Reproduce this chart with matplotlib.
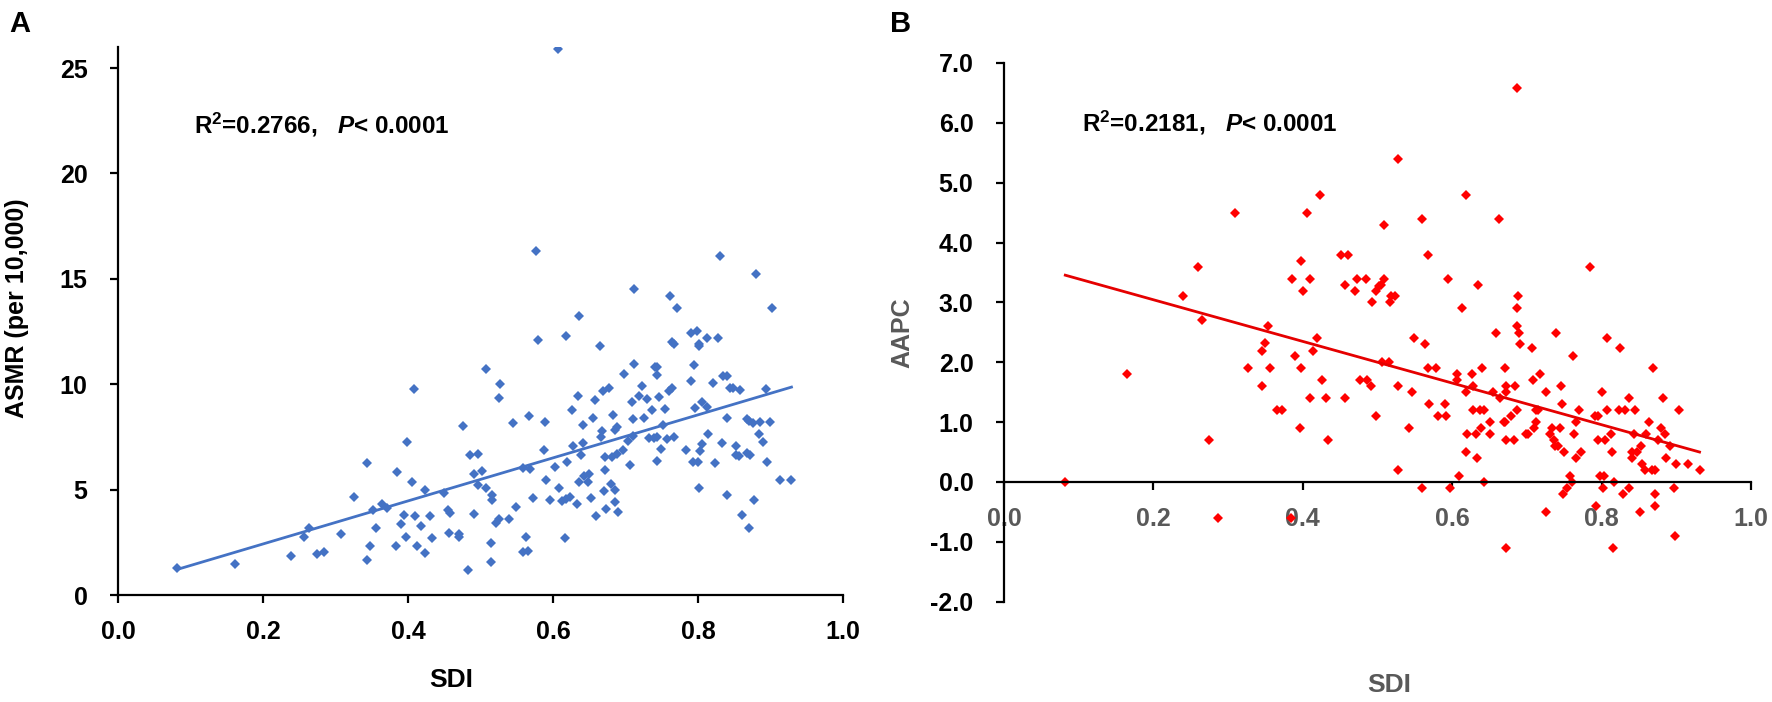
import numpy as np
import matplotlib
matplotlib.use('Agg')
import matplotlib.pyplot as plt
from matplotlib import font_manager

# ---- data ----
# panel A: SDI vs ASMR (per 10,000)
sdi_a = [0.607, 0.577, 0.830, 0.880, 0.712, 0.761, 0.771, 0.902, 0.636, 0.580,
         0.618, 0.665, 0.764, 0.767, 0.791, 0.799, 0.813, 0.802, 0.828,
         0.082, 0.162, 0.238, 0.257, 0.264, 0.274, 0.284, 0.307, 0.326, 0.343,
         0.343, 0.347, 0.352, 0.356, 0.364, 0.371, 0.383, 0.385, 0.390, 0.395,
         0.397, 0.399, 0.405, 0.408, 0.409, 0.413, 0.418, 0.423, 0.424, 0.430,
         0.433, 0.449, 0.455, 0.458, 0.456, 0.470, 0.470, 0.476, 0.483, 0.485,
         0.491, 0.491, 0.496, 0.496, 0.502, 0.507, 0.508, 0.515, 0.515, 0.516,
         0.516, 0.521, 0.526, 0.525, 0.527, 0.539, 0.545, 0.549, 0.558, 0.558,
         0.563, 0.565, 0.567, 0.568, 0.573, 0.588, 0.589, 0.591, 0.596, 0.603,
         0.608, 0.613, 0.617, 0.618, 0.619, 0.624, 0.626, 0.628, 0.633, 0.635,
         0.636, 0.639, 0.641, 0.642, 0.643, 0.650, 0.648, 0.653, 0.655, 0.658,
         0.660, 0.666, 0.668, 0.669, 0.670, 0.672, 0.673, 0.672, 0.677, 0.680,
         0.683, 0.682, 0.685, 0.686, 0.686, 0.688, 0.689, 0.690, 0.698, 0.697,
         0.703, 0.706, 0.709, 0.710, 0.711, 0.712, 0.719, 0.723, 0.726, 0.730,
         0.733, 0.736, 0.739, 0.741, 0.743, 0.744, 0.744, 0.744, 0.746, 0.749,
         0.752, 0.755, 0.757, 0.760, 0.764, 0.767, 0.783, 0.791, 0.794, 0.793,
         0.796, 0.800, 0.801, 0.802, 0.805, 0.806, 0.803, 0.813, 0.814, 0.821,
         0.823, 0.833, 0.835, 0.840, 0.840, 0.840, 0.844, 0.849, 0.852, 0.852,
         0.856, 0.858, 0.861, 0.867, 0.868, 0.870, 0.871, 0.872, 0.876, 0.878,
         0.884, 0.885, 0.890, 0.894, 0.895, 0.899, 0.913, 0.929]
asmr = [25.9, 16.3, 16.1, 15.25, 14.5, 14.2, 13.6, 13.6, 13.25, 12.1,
        12.3, 11.8, 12.0, 11.9, 12.45, 12.55, 12.2, 11.9, 12.2,
        1.30, 1.45, 1.85, 2.75, 3.2, 1.93, 2.05, 2.9, 4.63, 6.26,
        1.67, 2.34, 4.04, 3.18, 4.3, 4.14, 2.34, 5.83, 3.36, 3.82,
        2.73, 7.27, 5.37, 9.78, 3.76, 2.32, 3.29, 2.0, 4.99, 3.76,
        2.69, 4.85, 4.03, 3.87, 2.95, 2.89, 2.76, 8.03, 1.17, 6.62,
        5.72, 3.85, 6.70, 5.21, 5.89, 10.7, 5.06, 2.45, 1.55, 4.74,
        4.52, 3.44, 3.63, 9.34, 10.03, 3.59, 8.15, 4.19, 2.02, 6.03,
        2.76, 2.07, 8.51, 5.99, 4.6, 6.89, 8.2, 5.45, 4.49, 6.08,
        5.09, 4.47, 2.72, 4.57, 6.32, 4.66, 8.77, 7.09, 4.31, 9.42,
        5.37, 6.62, 7.19, 8.07, 5.64, 5.73, 5.37, 4.6, 8.42, 9.26,
        3.74, 7.52, 7.79, 9.67, 4.94, 5.92, 4.08, 6.56, 9.83, 5.29,
        8.53, 6.56, 7.82, 4.39, 4.98, 7.98, 6.68, 3.93, 10.47, 6.87,
        7.3, 6.19, 9.16, 8.33, 7.54, 10.95, 9.46, 9.94, 8.39, 9.3,
        7.47, 8.77, 7.46, 10.82, 10.84, 10.44, 6.35, 7.5, 9.38, 6.94,
        8.09, 8.82, 7.42, 9.7, 9.8, 7.5, 6.87, 10.14, 10.92, 6.32,
        8.86, 6.3, 5.07, 11.8, 7.17, 9.18, 6.81, 8.91, 7.65, 10.05,
        6.26, 7.19, 10.38, 10.38, 8.4, 4.76, 9.84, 9.81, 7.08, 6.62,
        6.6, 9.72, 3.79, 8.33, 6.75, 3.16, 8.26, 6.64, 8.14, 4.5,
        7.66, 8.23, 7.25, 9.78, 6.32, 8.2, 5.47, 5.47]

# panel B: SDI vs AAPC
sdi_b = [0.687, 0.527, 0.423, 0.619, 0.309, 0.406, 0.559, 0.662, 0.509, 0.451,
         0.460, 0.567, 0.398, 0.259, 0.785, 0.386, 0.409, 0.472, 0.484, 0.509,
         0.594, 0.457, 0.505, 0.635, 0.400, 0.470, 0.498, 0.502, 0.240, 0.518,
         0.523, 0.688, 0.492, 0.517, 0.613, 0.687, 0.265, 0.353, 0.658, 0.686,
         0.690, 0.739, 0.549, 0.419, 0.807, 0.349, 0.563, 0.691, 0.824, 0.707,
         0.345, 0.414, 0.390, 0.761, 0.164, 0.327, 0.356, 0.397, 0.567, 0.578,
         0.640, 0.671, 0.869, 0.506, 0.515, 0.425, 0.477, 0.486, 0.607, 0.708,
         0.607, 0.626, 0.718, 0.345, 0.491, 0.527, 0.628, 0.672, 0.684, 0.745,
         0.546, 0.619, 0.654, 0.672, 0.725, 0.801, 0.409, 0.431, 0.457, 0.664,
         0.837, 0.882, 0.569, 0.590, 0.747, 0.365, 0.372, 0.628, 0.637, 0.642,
         0.686, 0.712, 0.715, 0.769, 0.807, 0.823, 0.831, 0.845, 0.903, 0.498,
         0.581, 0.591, 0.679, 0.791, 0.795, 0.650, 0.669, 0.671, 0.712, 0.766,
         0.863, 0.396, 0.542, 0.639, 0.709, 0.733, 0.744, 0.880, 0.620, 0.632,
         0.650, 0.699, 0.702, 0.731, 0.763, 0.813, 0.843, 0.860, 0.885, 0.275,
         0.434, 0.672, 0.683, 0.736, 0.795, 0.804, 0.875, 0.737, 0.742, 0.852,
         0.891, 0.619, 0.750, 0.772, 0.814, 0.841, 0.847, 0.633, 0.766, 0.841,
         0.886, 0.854, 0.900, 0.915, 0.527, 0.858, 0.867, 0.872, 0.931, 0.609,
         0.758, 0.798, 0.803, 0.082, 0.643, 0.760, 0.816, 0.559, 0.597, 0.753,
         0.802, 0.836, 0.897, 0.748, 0.829, 0.871, 0.792, 0.872, 0.725, 0.851,
         0.286, 0.384, 0.898, 0.672, 0.815]
aapc = [6.59, 5.39, 4.80, 4.80, 4.49, 4.49, 4.40, 4.40, 4.29, 3.79,
        3.79, 3.79, 3.69, 3.59, 3.59, 3.39, 3.39, 3.39, 3.39, 3.39,
        3.39, 3.29, 3.29, 3.29, 3.19, 3.19, 3.19, 3.28, 3.10, 3.10,
        3.10, 3.10, 3.0, 3.0, 2.90, 2.90, 2.70, 2.60, 2.49, 2.60,
        2.49, 2.49, 2.40, 2.40, 2.40, 2.32, 2.31, 2.31, 2.23, 2.23,
        2.19, 2.19, 2.10, 2.10, 1.80, 1.90, 1.90, 1.90, 1.90, 1.90,
        1.90, 1.90, 1.90, 2.0, 2.0, 1.70, 1.70, 1.70, 1.70, 1.70,
        1.80, 1.80, 1.80, 1.60, 1.60, 1.60, 1.60, 1.60, 1.60, 1.60,
        1.50, 1.50, 1.50, 1.50, 1.50, 1.50, 1.40, 1.40, 1.40, 1.40,
        1.40, 1.40, 1.30, 1.30, 1.30, 1.20, 1.20, 1.20, 1.20, 1.20,
        1.20, 1.20, 1.20, 1.20, 1.20, 1.20, 1.20, 1.20, 1.20, 1.10,
        1.10, 1.10, 1.10, 1.10, 1.10, 1.00, 1.00, 1.00, 1.00, 1.00,
        1.00, 0.90, 0.90, 0.90, 0.90, 0.90, 0.90, 0.90, 0.80, 0.80,
        0.80, 0.80, 0.80, 0.80, 0.80, 0.80, 0.80, 0.80, 0.80, 0.70,
        0.70, 0.70, 0.70, 0.70, 0.70, 0.70, 0.70, 0.60, 0.60, 0.60,
        0.60, 0.50, 0.50, 0.50, 0.50, 0.50, 0.50, 0.40, 0.40, 0.40,
        0.40, 0.30, 0.30, 0.30, 0.20, 0.20, 0.20, 0.20, 0.20, 0.10,
        0.10, 0.10, 0.10, 0.00, 0.00, 0.00, 0.00, -0.10, -0.10, -0.10,
        -0.10, -0.10, -0.10, -0.20, -0.20, -0.20, -0.40, -0.40, -0.50, -0.50,
        -0.60, -0.60, -0.90, -1.10, -1.10]

# linear fits as printed in the figure (slope, intercept)
fit_a = (10.21, 0.38)
fit_b = (-3.48, 3.74)
label_a = 'R$^{2}$=0.2766,   $\\mathit{P}$< 0.0001'
label_b = 'R$^{2}$=0.2181,   $\\mathit{P}$< 0.0001'

x_ticks = [0.0, 0.2, 0.4, 0.6, 0.8, 1.0]
y_ticks_a = [0, 5, 10, 15, 20, 25]
y_ticks_b = [-2.0, -1.0, 0.0, 1.0, 2.0, 3.0, 4.0, 5.0, 6.0, 7.0]

# ---- fonts ----
names = {f.name for f in font_manager.fontManager.ttflist}
narrow = 'Liberation Sans'
for cand in ['Liberation Sans Narrow', 'Arial Narrow']:
    if cand in names:
        narrow = cand
        break
plt.rcParams['font.family'] = [narrow, 'DejaVu Sans']
plt.rcParams['mathtext.fontset'] = 'custom'
plt.rcParams['mathtext.rm'] = narrow + ':bold'
plt.rcParams['mathtext.it'] = narrow + ':italic:bold'
plt.rcParams['mathtext.bf'] = narrow + ':bold'
plt.rcParams['axes.linewidth'] = 1.6

BLUE = '#4472C4'
RED = '#FF0000'
GRAY = '#595959'
WIDE = ['Liberation Sans', 'DejaVu Sans']

fig = plt.figure(figsize=(17.72, 7.02), dpi=100)
axA = fig.add_axes([0.0666, 0.1524, 0.4091, 0.7806])
axB = fig.add_axes([0.5666, 0.1429, 0.4216, 0.7674])

# ---- panel A ----
axA.plot(sdi_a, asmr, linestyle='none', marker='D', markersize=5.4,
         color=BLUE, markeredgewidth=0)
xa = np.array([min(sdi_a), max(sdi_a)])
axA.plot(xa, fit_a[0] * xa + fit_a[1], color=BLUE, lw=2.0)
axA.set_xlim(0, 1.0)
axA.set_ylim(0, 26)
axA.set_xticks(x_ticks)
axA.set_xticklabels([f'{v:.1f}' for v in x_ticks])
axA.set_yticks(y_ticks_a)
axA.spines['top'].set_visible(False)
axA.spines['right'].set_visible(False)
axA.tick_params(direction='out', length=6, width=1.6, labelsize=18)
axA.tick_params(axis='x', pad=12)
axA.tick_params(axis='y', pad=16)
for t in axA.get_xticklabels() + axA.get_yticklabels():
    t.set_fontweight('bold')
axA.set_xlabel('SDI', fontsize=19, fontweight='bold')
axA.xaxis.set_label_coords(0.46, -0.133)
axA.set_ylabel('ASMR (per 10,000)', fontsize=18, fontweight='bold', family=WIDE)
axA.yaxis.set_label_coords(-0.123, 0.524)
axA.text(0.105, 22.3, label_a, fontsize=17.5, fontweight='bold', va='center')
fig.text(0.005, 0.986, 'A', fontsize=21, fontweight='bold', va='top')

# ---- panel B ----
axB.plot(sdi_b, aapc, linestyle='none', marker='D', markersize=4.8,
         color=RED, markeredgewidth=0)
xb = np.array([min(sdi_b), max(sdi_b)])
axB.plot(xb, fit_b[0] * xb + fit_b[1], color='#E50000', lw=2.0)
axB.set_xlim(0, 1.0)
axB.set_ylim(-2, 7)
axB.set_xticks(x_ticks)
axB.set_xticklabels([f'{v:.1f}' for v in x_ticks])
axB.set_yticks(y_ticks_b)
axB.set_yticklabels([f'{v:.1f}' for v in y_ticks_b])
axB.spines['top'].set_visible(False)
axB.spines['right'].set_visible(False)
axB.spines['bottom'].set_position(('data', 0))
axB.tick_params(direction='out', length=6, width=1.6, labelsize=18)
axB.tick_params(axis='x', pad=12, labelcolor=GRAY)
axB.tick_params(axis='y', pad=16)
for t in axB.get_xticklabels() + axB.get_yticklabels():
    t.set_fontweight('bold')
axB.set_xlabel('SDI', fontsize=19, fontweight='bold', color=GRAY)
axB.xaxis.set_label_coords(0.515, -0.132)
axB.set_ylabel('AAPC', fontsize=18, fontweight='bold', color=GRAY, family=WIDE)
axB.yaxis.set_label_coords(-0.12, 0.50)
axB.text(0.104, 6.0, label_b, fontsize=17.5, fontweight='bold', va='center')
fig.text(0.502, 0.986, 'B', fontsize=21, fontweight='bold', va='top')

fig.savefig('out.png', dpi=100, facecolor='white')
